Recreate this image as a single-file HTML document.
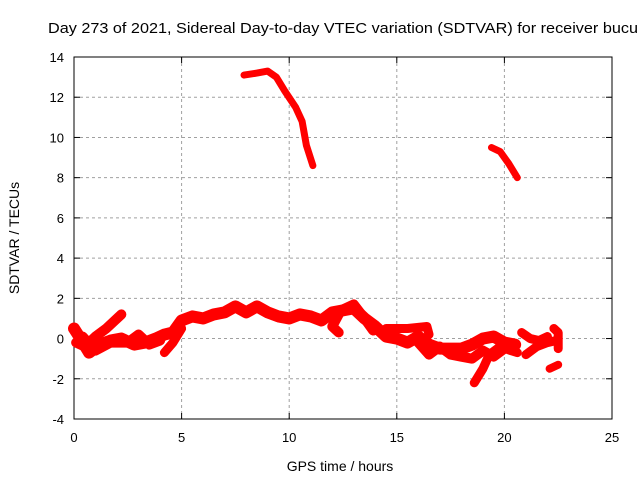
<!DOCTYPE html>
<html><head><meta charset="utf-8"><style>
body{margin:0;background:#fff}
svg{display:block;font-family:"Liberation Sans",sans-serif}
</style></head><body>
<svg id="c" width="640" height="480"></svg>
<script>
const xTicks=[0,5,10,15,20,25];
const yTicks=[-4,-2,0,2,4,6,8,10,12,14];
const trackUpper1=[[7.9,13.1],[8.5,13.2],[9.0,13.3],[9.4,13.0],[9.8,12.3],[10.3,11.5],[10.6,10.8],[10.8,9.6],[11.1,8.6]];
const trackUpper2=[[19.4,9.5],[19.8,9.3],[20.2,8.7],[20.6,8.0]];
const trackMain=[[0,0.5],[0.3,0],[0.7,-0.7],[1.2,-0.3],[1.7,-0.1],[2.2,0],[2.8,-0.3],[3.3,-0.2],[3.8,0],[4.2,0.2],[4.6,0.3],[5.0,0.9],[5.5,1.1],[6.0,1.0],[6.5,1.2],[7.0,1.3],[7.5,1.6],[8.0,1.3],[8.5,1.6],[9.0,1.3],[9.5,1.1],[10.0,1.0],[10.5,1.2],[11.0,1.1],[11.5,0.9],[12.0,1.3],[12.5,1.4],[13.0,1.5],[13.5,1.0],[14.0,0.6],[14.5,0.1],[15,0.0],[15.5,-0.2],[16,0.1],[16.5,-0.3],[17,-0.5],[17.5,-0.5],[18,-0.5],[18.5,-0.3],[19,0.0],[19.5,0.1],[20,-0.2],[20.5,-0.3]];
const trackB=[[0.1,-0.2],[0.5,-0.4],[1.0,0.1],[1.5,0.5],[2.2,1.2]];
const trackC=[[0.4,0.1],[1.0,-0.6],[1.7,-0.2],[2.5,-0.2],[3,0.2],[3.5,-0.3],[4.0,-0.1]];
const trackD=[[4.2,-0.7],[4.6,-0.2],[5.0,0.5]];
const trackE=[[12.3,0.3],[12.0,0.6],[12.4,1.4],[13,1.7],[13.5,1.0],[13.9,0.4]];
const trackF=[[16,-0.2],[16.5,-0.8],[17,-0.4],[17.5,-0.8],[18,-0.9],[18.5,-1.0],[19,-0.6],[19.5,-0.9],[20,-0.5]];
const trackG=[[18.6,-2.2],[19.0,-1.5],[19.3,-0.8],[19.8,-0.4],[20.3,-0.6],[20.6,-0.7]];
const trackH=[[20.8,0.3],[21.2,0.0],[21.6,-0.1],[22.0,0.1]];
const trackI=[[21.0,-0.8],[21.5,-0.4],[22.0,-0.2],[22.4,-0.1]];
const trackJ=[[22.3,0.5],[22.5,0.3],[22.5,-0.5]];
const trackK=[[22.1,-1.5],[22.5,-1.3]];
const trackL=[[14.5,0.5],[15.5,0.5],[16.4,0.6],[16.5,0.2]];
const tracks=[trackUpper1,trackUpper2,trackMain,trackB,trackC,trackD,trackE,trackF,trackG,trackH,trackI,trackJ,trackK,trackL];
const thick=[7,7,12,10,10,9,10,10,9,9,9,9,8,9];

const X0=74,X1=612,Y0=419,Y1=57;
const sx=v=>X0+(v-0)/(25-0)*(X1-X0);
const sy=v=>Y0-(v+4)/(18)*(Y0-Y1);
const svg=document.getElementById('c');
const NS='http://www.w3.org/2000/svg';
function mk(t,a){const e=document.createElementNS(NS,t);for(const k in a)e.setAttribute(k,a[k]);svg.appendChild(e);return e;}

const title=mk('text',{x:48,y:33,'font-size':14.5,fill:'#000',textLength:590,lengthAdjust:'spacingAndGlyphs'});
title.textContent='Day 273 of 2021, Sidereal Day-to-day VTEC variation (SDTVAR) for receiver bucu';



xTicks.forEach(t=>{
  const x=sx(t);
  if(t>0&&t<25){const g=mk('line',{x1:x,x2:x,y1:Y1,y2:Y0,stroke:'#a0a0a0','stroke-dasharray':'3,3'});
  
  }
  mk('line',{x1:x,x2:x,y1:Y0,y2:Y0-6,stroke:'#000'});
  mk('line',{x1:x,x2:x,y1:Y1,y2:Y1+6,stroke:'#000'});
  const l=mk('text',{x:x,y:Y0+23,'font-size':13,'text-anchor':'middle'});
  l.textContent=t;
  
  
});
yTicks.forEach(t=>{
  const y=sy(t);
  if(t>-4&&t<14){const g=mk('line',{x1:X0,x2:X1,y1:y,y2:y,stroke:'#a0a0a0','stroke-dasharray':'3,3'});
  
  }
  mk('line',{x1:X0,x2:X0+6,y1:y,y2:y,stroke:'#000'});
  mk('line',{x1:X1,x2:X1-6,y1:y,y2:y,stroke:'#000'});
  const l=mk('text',{x:X0-10,y:y+5,'font-size':13,'text-anchor':'end'});
  l.textContent=t;
  
  
});
const frame=mk('rect',{x:X0,y:Y1,width:X1-X0,height:Y0-Y1,fill:'none',stroke:'#000'});



tracks.forEach((tr,i)=>{
  const p=mk('polyline',{points:tr.map(d=>sx(d[0])+','+sy(d[1])).join(' '),fill:'none',stroke:'#ff0000','stroke-width':thick[i],'stroke-linejoin':'round','stroke-linecap':'round'});
  
  
});

const xl=mk('text',{x:340,y:471,'font-size':14,'text-anchor':'middle'});
xl.textContent='GPS time / hours';


const yl=mk('text',{x:0,y:0,'font-size':14,'text-anchor':'middle',transform:'translate(19,238) rotate(-90)'});
yl.textContent='SDTVAR / TECUs';


</script>
</body></html>
